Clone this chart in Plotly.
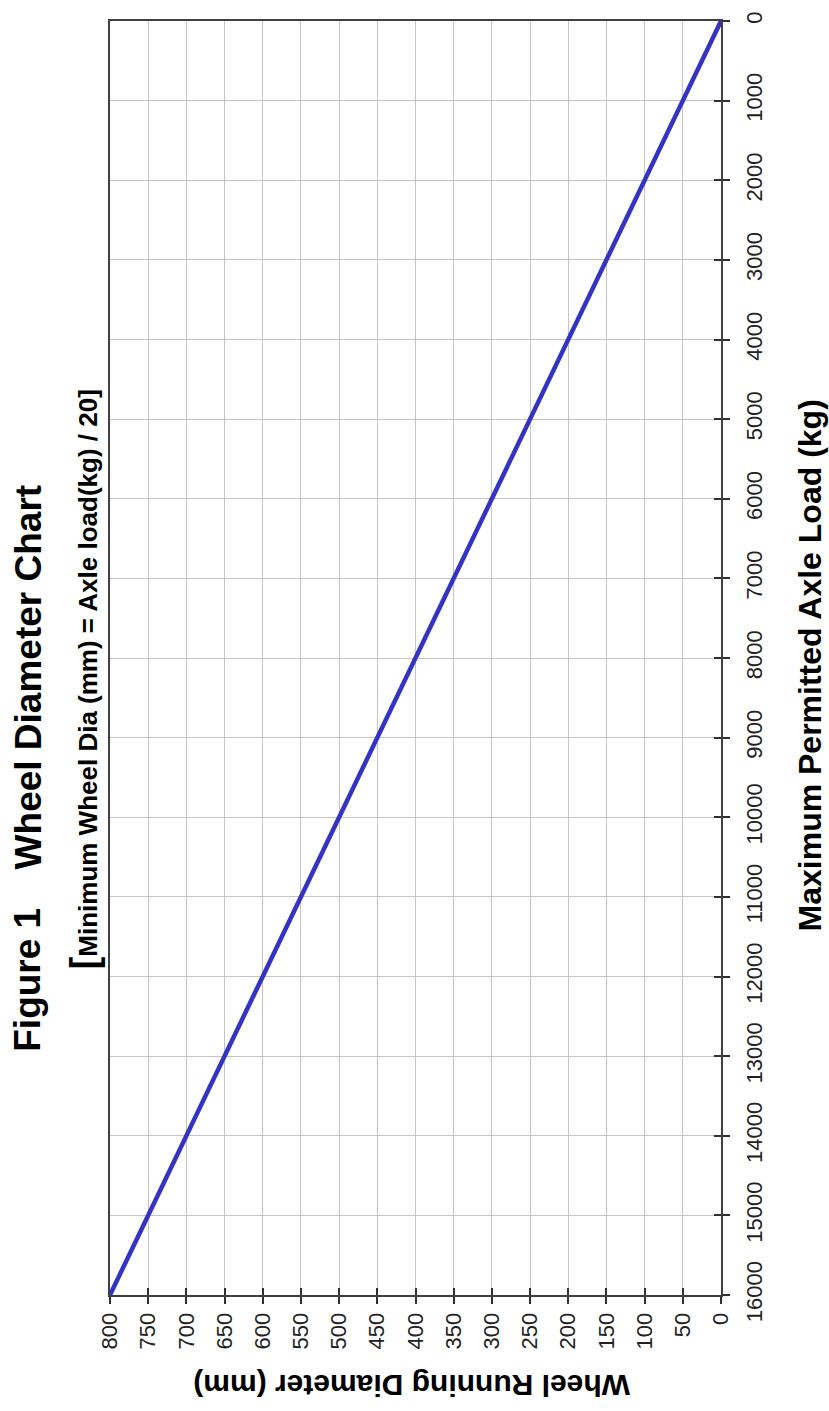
import plotly.graph_objects as go

# Data: axle load (kg) vs minimum wheel diameter (mm)
axle_load_kg = [0, 1000, 2000, 3000, 4000, 5000, 6000, 7000, 8000,
                9000, 10000, 11000, 12000, 13000, 14000, 15000, 16000]
wheel_dia_mm = [0, 50, 100, 150, 200, 250, 300, 350, 400,
                450, 500, 550, 600, 650, 700, 750, 800]

dia_ticks = [800, 750, 700, 650, 600, 550, 500, 450, 400, 350, 300, 250, 200, 150, 100, 50, 0]
load_ticks = [0, 1000, 2000, 3000, 4000, 5000, 6000, 7000, 8000, 9000, 10000,
              11000, 12000, 13000, 14000, 15000, 16000]

W, H = 829, 1411
L, R, T, B = 110, 721, 14, 1295

def px(xp):
    return (xp - L) / (R - L)

def py(yp):
    return (B - yp) / (B - T)

FONT = "Liberation Sans, Arial, sans-serif"

fig = go.Figure()
fig.add_trace(go.Scatter(
    x=wheel_dia_mm, y=axle_load_kg, mode="lines",
    line=dict(color="#3333c4", width=4.5),
    hoverinfo="skip", showlegend=False,
))
# invisible trace on overlay axes (for cross-style ticks)
fig.add_trace(go.Scatter(
    x=wheel_dia_mm, y=axle_load_kg, mode="lines", xaxis="x2", yaxis="y2",
    line=dict(color="rgba(0,0,0,0)", width=1),
    hoverinfo="skip", showlegend=False,
))

axis_common = dict(
    showline=True, linecolor="#404040", linewidth=2, mirror=True,
    showgrid=True, gridcolor="#c4c4c4", gridwidth=1,
    zeroline=False, ticks="outside", ticklen=7, tickwidth=1.5, tickcolor="#303030",
    tickangle=-90,
    tickfont=dict(family=FONT, size=22, color="#222222"),
)

fig.update_layout(
    width=W, height=H,
    margin=dict(l=L, r=W - R, t=T, b=H - B, pad=0),
    paper_bgcolor="white", plot_bgcolor="white",
    xaxis=dict(range=[800, 0], tickmode="array", tickvals=dia_ticks,
               ticktext=[str(v) for v in dia_ticks], side="bottom", **axis_common),
    yaxis=dict(range=[16000, 0], tickmode="array", tickvals=load_ticks,
               ticktext=[str(v) for v in load_ticks], side="right",
               ticklabelstandoff=6, **axis_common),
    xaxis2=dict(range=[800, 0], overlaying="x", anchor="y2", side="bottom",
                tickmode="array", tickvals=dia_ticks, ticks="inside", ticklen=7,
                tickwidth=1.5, tickcolor="#303030", showticklabels=False,
                showgrid=False, zeroline=False, showline=False),
    yaxis2=dict(range=[16000, 0], overlaying="y", anchor="x2", side="right",
                tickmode="array", tickvals=load_ticks, ticks="inside", ticklen=7,
                tickwidth=1.5, tickcolor="#303030", showticklabels=False,
                showgrid=False, zeroline=False, showline=False),
)

ann = [
    dict(text="<b>Figure 1</b>", x=px(28), y=py(978), size=37),
    dict(text="<b>Wheel Diameter Chart</b>", x=px(28), y=py(674), size=37),
    dict(text="<b><span style='font-size:38px'>[</span>Minimum Wheel Dia (mm) = Axle load(kg) / 20]</b>",
         x=px(84), y=py(676), size=26),
    dict(text="<b>Maximum Permitted Axle Load (kg)</b>", x=px(810), y=py(662), size=32),
]
for a in ann:
    fig.add_annotation(text=a["text"], x=a["x"], y=a["y"], xref="paper", yref="paper",
                       showarrow=False, textangle=-90, xanchor="center", yanchor="middle",
                       font=dict(family=FONT, size=a["size"], color="#000000"))

fig.add_annotation(text="<b>Wheel Running Diameter (mm)</b>", x=px(412), y=py(1386),
                   xref="paper", yref="paper", showarrow=False, textangle=180,
                   xanchor="center", yanchor="middle",
                   font=dict(family=FONT, size=30, color="#000000"))

fig.write_html("out.html", config={"displayModeBar": False},
               post_script="document.body.style.margin='0';document.body.style.overflow='hidden';")
